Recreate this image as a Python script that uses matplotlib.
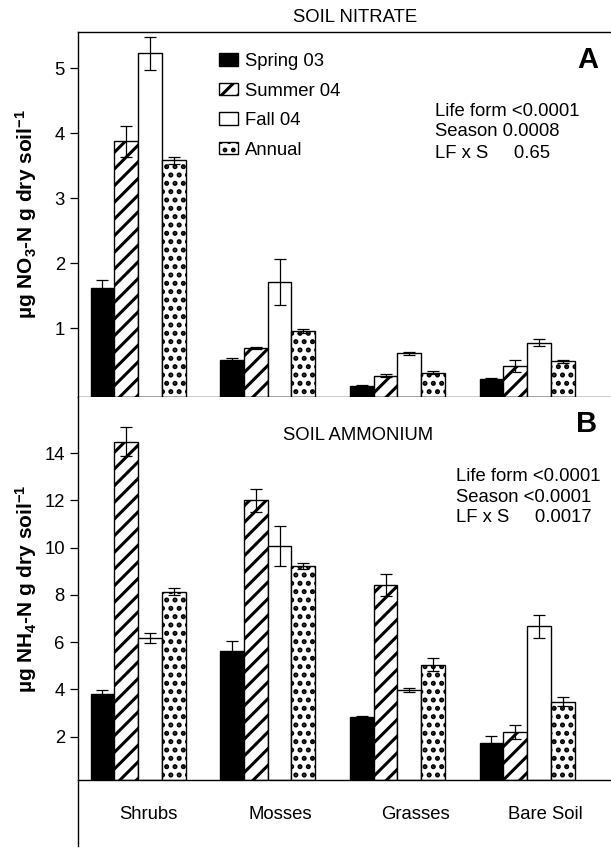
import numpy as np
import matplotlib
matplotlib.use("Agg")
import matplotlib.pyplot as plt

# ── Data ─────────────────────────────────────────────────────────────────────
categories = ["Shrubs", "Mosses", "Grasses", "Bare Soil"]
seasons = ["Spring 03", "Summer 04", "Fall 04", "Annual"]

# Panel A: soil nitrate (ug NO3-N / g dry soil)
no3_spring = [1.62, 0.51, 0.11, 0.22]
no3_summer = [3.88, 0.70, 0.27, 0.42]
no3_fall = [5.23, 1.71, 0.615, 0.78]
no3_annual = [3.585, 0.96, 0.32, 0.49]
no3_spring_err = [0.13, 0.03, 0.01, 0.02]
no3_summer_err = [0.24, 0.02, 0.02, 0.085]
no3_fall_err = [0.26, 0.35, 0.025, 0.05]
no3_annual_err = [0.05, 0.03, 0.02, 0.02]

# Panel B: soil ammonium (ug NH4-N / g dry soil)
nh4_spring = [3.80, 5.61, 2.83, 1.75]
nh4_summer = [14.49, 12.0, 8.43, 2.20]
nh4_fall = [6.17, 10.07, 3.98, 6.67]
nh4_annual = [8.14, 9.23, 5.04, 3.47]
nh4_spring_err = [0.17, 0.42, 0.05, 0.27]
nh4_summer_err = [0.60, 0.47, 0.47, 0.28]
nh4_fall_err = [0.20, 0.85, 0.10, 0.50]
nh4_annual_err = [0.14, 0.12, 0.28, 0.19]

stats_a = ["Life form <0.0001", "Season 0.0008", "LF x S     0.65"]
stats_b = ["Life form <0.0001", "Season <0.0001", "LF x S     0.0017"]

# ── Style ────────────────────────────────────────────────────────────────────
plt.rcParams["font.family"] = ["Liberation Sans", "DejaVu Sans"]
plt.rcParams["mathtext.fontset"] = "custom"
plt.rcParams["mathtext.rm"] = "Liberation Sans:bold"
plt.rcParams["mathtext.it"] = "Liberation Sans:bold"
plt.rcParams["mathtext.bf"] = "Liberation Sans:bold"
plt.rcParams["hatch.linewidth"] = 2.2
plt.rcParams["axes.linewidth"] = 1.0

W, H = 611, 849
FS = 13.3


def fx(x):
    return x / W


def fy(y):
    return 1 - y / H


fig = plt.figure(figsize=(W / 100, H / 100), dpi=100)

ax_left, ax_right = 78, 611
top_a, split, bot_b = 32, 397, 780
ax1 = fig.add_axes([fx(ax_left), fy(split), fx(ax_right - ax_left), (split - top_a) / H])
ax2 = fig.add_axes([fx(ax_left), fy(bot_b), fx(ax_right - ax_left), (bot_b - split) / H])

x = np.arange(len(categories))
w = 0.183
styles = [
    dict(color="black", edgecolor="black"),
    dict(color="white", edgecolor="black", hatch="//"),
    dict(color="white", edgecolor="black"),
    dict(color="white", edgecolor="black", hatch=".."),
]
hatch_lw = [None, 2.2, None, 2.4]


def draw_panel(ax, vals, errs, ylim):
    floor = ylim[0]
    handles = []
    for k, (v, e, st) in enumerate(zip(vals, errs, styles)):
        pos = x + (k - 1.5) * w
        v = np.array(v)
        b = ax.bar(pos, v - floor, bottom=floor, width=w, linewidth=1.0, **st, zorder=2)
        if hatch_lw[k] is not None:
            for p in b:
                if hasattr(p, "set_hatch_linewidth"):
                    p.set_hatch_linewidth(hatch_lw[k])
        handles.append(b)
        ax.errorbar(pos, v, yerr=e, fmt="none", ecolor="black", elinewidth=0.9,
                    capsize=4.5, capthick=0.9, zorder=3)
    ax.set_xlim(-0.463, 3.647)
    ax.set_ylim(*ylim)
    ax.spines["right"].set_visible(False)
    ax.tick_params(axis="y", direction="out", length=5.5, width=0.9, pad=4, labelsize=FS)
    return handles


handles = draw_panel(ax1, [no3_spring, no3_summer, no3_fall, no3_annual],
                     [no3_spring_err, no3_summer_err, no3_fall_err, no3_annual_err],
                     (-0.057, 5.56))
ax1.set_yticks([1, 2, 3, 4, 5])
ax1.set_xticks([])

draw_panel(ax2, [nh4_spring, nh4_summer, nh4_fall, nh4_annual],
           [nh4_spring_err, nh4_summer_err, nh4_fall_err, nh4_annual_err],
           (0.165, 16.38))
ax2.set_yticks([2, 4, 6, 8, 10, 12, 14])
ax2.spines["top"].set_visible(False)
ax2.set_xticks(np.array([0.08, 1.10, 2.14, 3.14]))
ax2.set_xticklabels(categories, fontsize=FS)
ax2.tick_params(axis="x", length=0, pad=19)

# left spine continues below the lower panel
ax2.plot([0, 0], [0, -(846 - bot_b) / (bot_b - split)], transform=ax2.transAxes,
         color="black", lw=1.0, clip_on=False)

# legend
leg = fig.legend([h for h in handles], seasons, loc="upper left",
                 bbox_to_anchor=(fx(219), fy(53)), frameon=False, fontsize=FS,
                 borderpad=0, borderaxespad=0, handlelength=1.03, handleheight=0.65,
                 handletextpad=0.38, labelspacing=0.68)

# titles, panel letters and stats
fig.text(fx(355), fy(17), "SOIL NITRATE", ha="center", va="center", fontsize=FS)
fig.text(fx(358), fy(435), "SOIL AMMONIUM", ha="center", va="center", fontsize=FS)
fig.text(fx(588), fy(60), "A", ha="center", va="center", fontsize=21, fontweight="bold")
fig.text(fx(587), fy(424), "B", ha="center", va="center", fontsize=21, fontweight="bold")

for line, yy in zip(stats_a, [111, 132, 153]):
    fig.text(fx(435), fy(yy), line, ha="left", va="center", fontsize=FS)
for line, yy in zip(stats_b, [476.5, 497, 518]):
    fig.text(fx(456), fy(yy), line, ha="left", va="center", fontsize=FS)

# y axis labels
fig.text(fx(26), fy((top_a + split) / 2), r"µg NO$_3$-N g dry soil$^{-1}$",
         rotation=90, ha="center", va="center", fontsize=15, fontweight="bold")
fig.text(fx(26), fy((split + bot_b) / 2), r"µg NH$_4$-N g dry soil$^{-1}$",
         rotation=90, ha="center", va="center", fontsize=15, fontweight="bold")

fig.savefig("out.png", dpi=100)
